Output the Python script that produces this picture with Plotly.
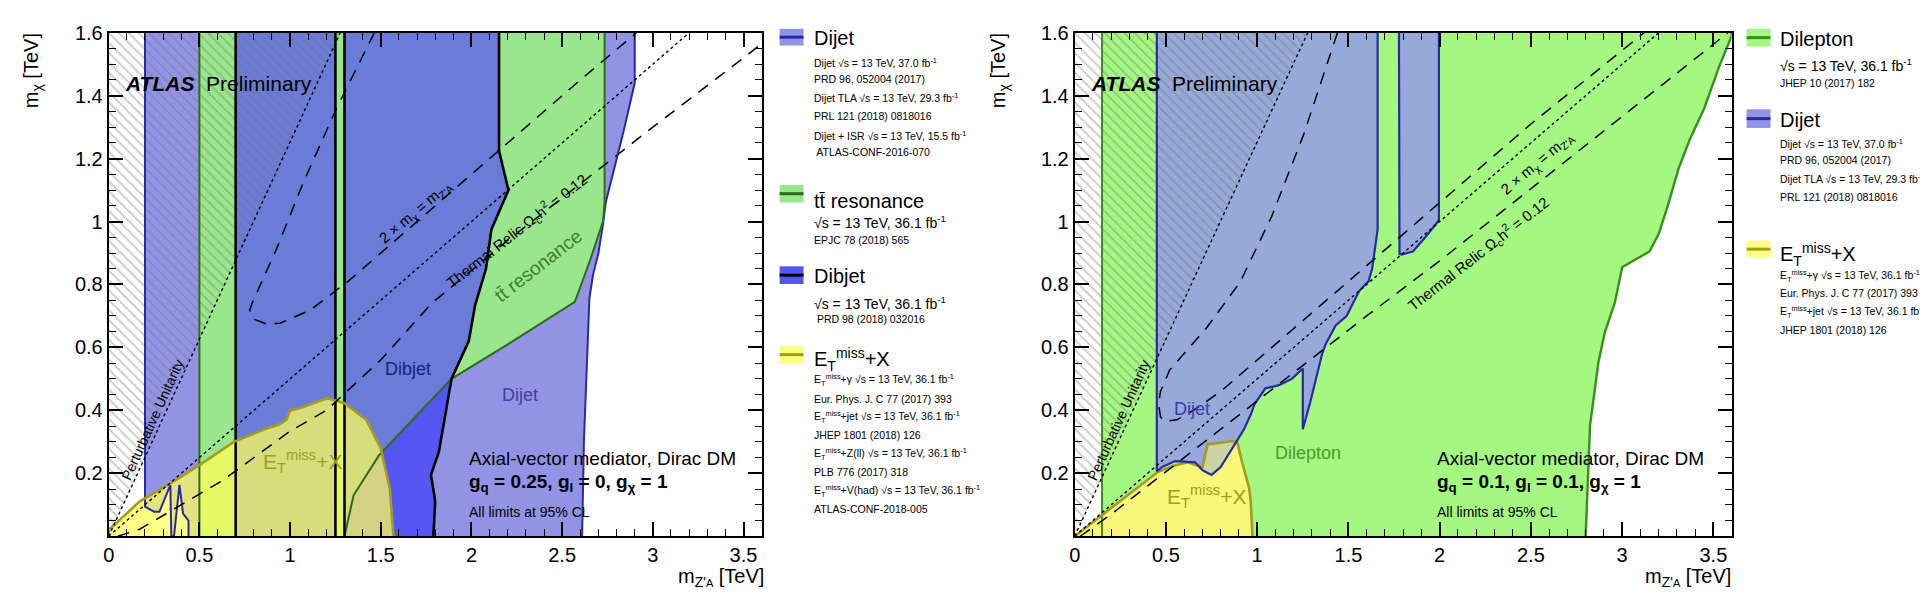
import plotly.graph_objects as go

W, H = 1928, 594
YMAX = 1.6

# ---------------- left panel: g_q = 0.25, g_l = 0, g_chi = 1 ----------------
L_STRIP_X = [0.2, 0.2, 0.25, 0.28, 0.34, 0.345, 0.36, 0.39, 0.41, 0.44, 0.44, 0.5, 0.5]
L_STRIP_Y = [1.6, 0.094, 0.078, 0.078, 0.163, 0.0, 0.0, 0.163, 0.072, 0.05, 0.0, 0.0, 1.6]
L_TT_BANDS = [(0.5, 0.7), (1.25, 1.3)]
L_DIBJET_BAND = (0.7, 1.25)
L_DIJET_EDGE_X = [2.61, 2.62, 2.64, 2.65, 2.67, 2.70, 2.725, 2.74, 2.84, 2.88, 2.90, 2.90]
L_DIJET_EDGE_Y = [0.0, 0.3, 0.6, 0.755, 0.83, 0.90, 0.99, 1.06, 1.29, 1.39, 1.44, 1.6]
L_TT_EDGE_X = [1.3, 1.35, 1.49, 1.89, 2.2, 2.57, 2.65, 2.725, 2.734, 2.734]
L_TT_EDGE_Y = [0.0, 0.13, 0.257, 0.50, 0.61, 0.745, 0.87, 1.0, 1.06, 1.6]
L_DIBJET_EDGE_X = [1.79, 1.80, 1.777, 1.82, 1.89, 1.985, 2.02, 2.08, 2.11, 2.204, 2.152, 2.152]
L_DIBJET_EDGE_Y = [0.0, 0.112, 0.195, 0.267, 0.50, 0.62, 0.734, 0.85, 0.975, 1.1, 1.225, 1.6]
L_MET_X = [0, 0, 0.17, 0.36, 0.5, 0.69, 0.86, 0.94, 0.98, 1.0, 1.07, 1.2, 1.22, 1.3, 1.42, 1.5, 1.55, 1.57]
L_MET_Y = [0, 0.02, 0.11, 0.175, 0.226, 0.30, 0.34, 0.355, 0.37, 0.40, 0.41, 0.438, 0.436, 0.423, 0.37, 0.28, 0.15, 0]
L_RELIC_A_X = [1.465, 1.256, 1.07, 0.923, 0.79, 0.777, 0.80, 0.87, 0.944, 1.11, 1.32, 1.8, 2.17, 2.6, 2.91]
L_RELIC_A_Y = [1.6, 1.36, 1.12, 0.91, 0.74, 0.718, 0.69, 0.674, 0.677, 0.718, 0.81, 1.05, 1.235, 1.45, 1.6]
L_RELIC_B_X = [0.05, 0.17, 0.4, 0.63, 1.0, 1.2, 1.5, 1.78, 2.2, 2.67, 3.0, 3.5, 3.6]
L_RELIC_B_Y = [0.0, 0.022, 0.10, 0.178, 0.334, 0.40, 0.56, 0.74, 0.94, 1.15, 1.30, 1.52, 1.565]

# ---------------- right panel: g_q = 0.1, g_l = 0.1, g_chi = 1 ----------------
R_DILEP_EDGE_X = [2.80, 2.806, 2.824, 2.87, 2.905, 2.96, 3.0, 3.15, 3.2, 3.25, 3.31, 3.37, 3.45, 3.53, 3.6, 3.6]
R_DILEP_EDGE_Y = [0.0, 0.104, 0.352, 0.553, 0.648, 0.742, 0.855, 0.905, 0.96, 1.05, 1.17, 1.26, 1.36, 1.49, 1.59, 1.6]
R_DILEP_LEFT = 0.15
R_MET_X = [0, 0.155, 0.455, 0.546, 0.62, 0.70, 0.728, 0.856, 0.89, 0.92, 0.956, 0.965, 0.974]
R_MET_Y = [0, 0.069, 0.204, 0.225, 0.235, 0.219, 0.292, 0.302, 0.30, 0.23, 0.153, 0.11, 0.0]
R_DIJET1_X = [0.45, 0.45, 0.48, 0.55, 0.62, 0.66, 0.70, 0.75, 0.80, 0.874, 0.928, 0.967, 0.986, 1.045,
              1.12, 1.19, 1.25, 1.25, 1.29, 1.356, 1.375, 1.43, 1.49, 1.52, 1.56, 1.61, 1.63, 1.65, 1.66, 1.66]
R_DIJET1_Y = [1.6, 0.206, 0.22, 0.239, 0.236, 0.235, 0.21, 0.195, 0.22, 0.29, 0.34, 0.39, 0.42, 0.47,
              0.48, 0.50, 0.533, 0.34, 0.424, 0.58, 0.61, 0.67, 0.70, 0.735, 0.78, 0.81, 0.85, 0.933, 0.975, 1.6]
R_DIJET2_X = [1.777, 1.78, 1.79, 1.853, 1.918, 1.996, 1.996]
R_DIJET2_Y = [1.6, 0.897, 0.895, 0.905, 0.948, 1.004, 1.6]
R_RELIC_A_X = [1.44, 1.255, 1.08, 0.907, 0.72, 0.60, 0.52, 0.47, 0.46, 0.47, 0.49, 0.56, 0.65, 0.8, 1.0, 1.4, 2.0, 2.5, 3.12]
R_RELIC_A_Y = [1.6, 1.277, 1.017, 0.808, 0.66, 0.58, 0.528, 0.46, 0.42, 0.38, 0.365, 0.37, 0.40, 0.46, 0.56, 0.76, 1.06, 1.31, 1.6]
R_RELIC_B_X = [0.03, 0.2, 0.4, 0.6, 0.8, 1.0, 1.2, 1.4, 1.6, 2.0, 2.5, 3.0, 3.58]
R_RELIC_B_Y = [0.0, 0.07, 0.16, 0.25, 0.34, 0.43, 0.52, 0.61, 0.70, 0.875, 1.105, 1.335, 1.6]

# ---------------- shared reference lines ----------------
UNIT_X, UNIT_Y = [0, 1.277], [0, 1.6]      # perturbative unitarity
HALF_X, HALF_Y = [0, 3.2], [0, 1.6]        # 2 m_chi = m_Z'

X_TICKS = [0, 0.5, 1, 1.5, 2, 2.5, 3, 3.5]
X_TICK_TEXT = ["0", "0.5", "1", "1.5", "2", "2.5", "3", "3.5"]
Y_TICKS = [0.2, 0.4, 0.6, 0.8, 1.0, 1.2, 1.4, 1.6]
Y_TICK_TEXT = ["0.2", "0.4", "0.6", "0.8", "1", "1.2", "1.4", "1.6"]

ET = "E<sub>T</sub><sup>miss</sup>"
LEFT_LEGEND_TEXT = [
    "Dijet",
    "Dijet √s = 13 TeV, 37.0 fb<sup>-1</sup>",
    "PRD 96, 052004 (2017)",
    "Dijet TLA √s = 13 TeV, 29.3 fb<sup>-1</sup>",
    "PRL 121 (2018) 0818016",
    "Dijet + ISR √s = 13 TeV, 15.5 fb<sup>-1</sup>",
    " ATLAS-CONF-2016-070",
    "tt\u0304 resonance",
    "√s = 13 TeV, 36.1 fb<sup>-1</sup>",
    "EPJC 78 (2018) 565",
    "Dibjet",
    "√s = 13 TeV, 36.1 fb<sup>-1</sup>",
    " PRD 98 (2018) 032016",
    ET + "+X",
    ET + "+γ √s = 13 TeV, 36.1 fb<sup>-1</sup>",
    "Eur. Phys. J. C 77 (2017) 393",
    ET + "+jet √s = 13 TeV, 36.1 fb<sup>-1</sup>",
    "JHEP 1801 (2018) 126",
    ET + "+Z(ll) √s = 13 TeV, 36.1 fb<sup>-1</sup>",
    "PLB 776 (2017) 318",
    ET + "+V(had) √s = 13 TeV, 36.1 fb<sup>-1</sup>",
    "ATLAS-CONF-2018-005",
]
RIGHT_LEGEND_TEXT = [
    "Dilepton",
    "√s = 13 TeV, 36.1 fb<sup>-1</sup>",
    "JHEP 10 (2017) 182",
    "Dijet",
    "Dijet √s = 13 TeV, 37.0 fb<sup>-1</sup>",
    "PRD 96, 052004 (2017)",
    "Dijet TLA √s = 13 TeV, 29.3 fb<sup>-1</sup>",
    "PRL 121 (2018) 0818016",
    ET + "+X",
    ET + "+γ √s = 13 TeV, 36.1 fb<sup>-1</sup>",
    "Eur. Phys. J. C 77 (2017) 393",
    ET + "+jet √s = 13 TeV, 36.1 fb<sup>-1</sup>",
    "JHEP 1801 (2018) 126",
]
LEFT_COUPLINGS = "<b>g<sub>q</sub> = 0.25, g<sub>l</sub> = 0, g<sub>χ</sub> = 1</b>"
RIGHT_COUPLINGS = "<b>g<sub>q</sub> = 0.1, g<sub>l</sub> = 0.1, g<sub>χ</sub> = 1</b>"

# colours
C_DIJET = "#9393e6"
C_DIJET_R = "#97a9d9"
C_DIBJET = "#5656f2"
C_MIX = "#6a7bd8"
C_TT = "#9ae68c"
C_DILEP = "#a4f780"
C_MET = "#f7f77a"
NAVY = "#2a2aa0"
DKGREEN = "#2f6b1a"
OLIVE = "#a49c1e"
FONT = "Liberation Sans, Arial, Helvetica, sans-serif"

fig = go.Figure()


def area(xs, ys, color, xa, ya, line=None, width=0):
    fig.add_trace(go.Scatter(x=list(xs), y=list(ys), xaxis=xa, yaxis=ya, mode="lines",
                             fill="toself", fillcolor=color,
                             line=dict(color=line or "rgba(0,0,0,0)", width=width),
                             hoverinfo="skip", showlegend=False))


def curve(xs, ys, color, width, xa, ya, dash="solid"):
    fig.add_trace(go.Scatter(x=list(xs), y=list(ys), xaxis=xa, yaxis=ya, mode="lines",
                             line=dict(color=color, width=width, dash=dash),
                             hoverinfo="skip", showlegend=False))


def hatch(xa, ya):
    fig.add_trace(go.Scatter(x=UNIT_X + [0], y=UNIT_Y + [YMAX], xaxis=xa, yaxis=ya, mode="lines",
                             fill="toself", fillcolor="rgba(0,0,0,0)",
                             fillpattern=dict(shape="\\", fgcolor="rgba(115,115,115,0.9)",
                                              bgcolor="rgba(0,0,0,0)", size=7, solidity=0.22),
                             line=dict(width=0, color="rgba(0,0,0,0)"),
                             hoverinfo="skip", showlegend=False))


def ref_lines(relic_a, relic_b, xa, ya):
    curve(UNIT_X, UNIT_Y, "black", 1.4, xa, ya, "dot")
    curve(HALF_X, HALF_Y, "black", 1.4, xa, ya, "dot")
    curve(relic_a[0], relic_a[1], "black", 1.5, xa, ya, "12px,9px")
    curve(relic_b[0], relic_b[1], "black", 1.5, xa, ya, "12px,9px")


# ================= left panel =================
xa, ya = "x", "y"
area(L_STRIP_X, L_STRIP_Y, C_DIJET, xa, ya)
area([1.3] + L_DIJET_EDGE_X + [1.3], [0] + L_DIJET_EDGE_Y + [YMAX], C_DIJET, xa, ya)
for a, b in L_TT_BANDS:
    area([a, b, b, a], [0, 0, YMAX, YMAX], C_TT, xa, ya)
area(L_TT_EDGE_X + [1.3], L_TT_EDGE_Y + [YMAX], C_TT, xa, ya)
a, b = L_DIBJET_BAND
area([a, b, b, a], [0, 0, YMAX, YMAX], C_MIX, xa, ya)
k = L_TT_EDGE_X.index(1.89)
j = L_DIBJET_EDGE_X.index(1.89)
area(L_TT_EDGE_X[:k + 1] + L_DIBJET_EDGE_X[j + 1:] + [1.3],
     L_TT_EDGE_Y[:k + 1] + L_DIBJET_EDGE_Y[j + 1:] + [YMAX], C_MIX, xa, ya)
area(L_TT_EDGE_X[:k + 1] + L_DIBJET_EDGE_X[:j][::-1],
     L_TT_EDGE_Y[:k + 1] + L_DIBJET_EDGE_Y[:j][::-1], C_DIBJET, xa, ya)
area(L_MET_X, L_MET_Y, "rgba(255,255,90,0.74)", xa, ya)
hatch(xa, ya)
# outlines
curve(L_STRIP_X[:11], L_STRIP_Y[:11], NAVY, 2, xa, ya)
curve(L_DIJET_EDGE_X, L_DIJET_EDGE_Y, NAVY, 2, xa, ya)
curve([0.5, 0.5], [0, YMAX], DKGREEN, 2, xa, ya)
curve(L_TT_EDGE_X, L_TT_EDGE_Y, DKGREEN, 2, xa, ya)
for xv in [L_DIBJET_BAND[0], L_DIBJET_BAND[1], L_TT_BANDS[1][1]]:
    curve([xv, xv], [0, YMAX], "black", 2.6, xa, ya)
curve(L_DIBJET_EDGE_X, L_DIBJET_EDGE_Y, "black", 2.6, xa, ya)
curve(L_MET_X, L_MET_Y, OLIVE, 2.6, xa, ya)
ref_lines((L_RELIC_A_X, L_RELIC_A_Y), (L_RELIC_B_X, L_RELIC_B_Y), xa, ya)

# ================= right panel =================
xa, ya = "x2", "y2"
area([R_DILEP_LEFT] + R_DILEP_EDGE_X + [R_DILEP_LEFT], [0] + R_DILEP_EDGE_Y + [YMAX], C_DILEP, xa, ya)
area(R_MET_X, R_MET_Y, C_MET, xa, ya)
area(R_DIJET1_X, R_DIJET1_Y, C_DIJET_R, xa, ya)
area(R_DIJET2_X, R_DIJET2_Y, C_DIJET_R, xa, ya)
area(R_MET_X, R_MET_Y, "rgba(247,247,122,0.55)", xa, ya)
hatch(xa, ya)
curve([R_DILEP_LEFT, R_DILEP_LEFT], [0, YMAX], "#3c8c1e", 2, xa, ya)
curve(R_DILEP_EDGE_X, R_DILEP_EDGE_Y, "#3c8c1e", 2.4, xa, ya)
curve(R_MET_X, R_MET_Y, OLIVE, 2.6, xa, ya)
curve(R_DIJET1_X, R_DIJET1_Y, NAVY, 2.2, xa, ya)
curve(R_DIJET2_X, R_DIJET2_Y, NAVY, 2.2, xa, ya)
ref_lines((R_RELIC_A_X, R_RELIC_A_Y), (R_RELIC_B_X, R_RELIC_B_Y), xa, ya)

# ================= in-plot text =================
ann = []


def text(x, y, s, xa, ya, size, color="black", angle=0, xanchor="center"):
    ann.append(dict(x=x, y=y, xref=xa, yref=ya, text=s, showarrow=False, textangle=angle,
                    xanchor=xanchor, yanchor="middle",
                    font=dict(family=FONT, size=size, color=color)))


for xa, ya, coup in [("x", "y", LEFT_COUPLINGS), ("x2", "y2", RIGHT_COUPLINGS)]:
    text(0.08, 1.44, "<b><i>ATLAS</i></b>  Preliminary", xa, ya, 21, xanchor="left")
    text(0.24, 0.37, "Perturbative Unitarity", xa, ya, 14, angle=-65.5)
    text(1.975, 0.247, "Axial-vector mediator, Dirac DM", xa, ya, 19, xanchor="left")
    text(1.975, 0.169, coup, xa, ya, 19, xanchor="left")
    text(1.975, 0.076, "All limits at 95% CL", xa, ya, 14, xanchor="left")

text(1.69, 1.03, "2 × m<sub>χ</sub> = m<sub>Z'A</sub>", "x", "y", 15, angle=-40)
text(2.25, 0.97, "Thermal Relic Ω<sub>c</sub>h<sup>2</sup> = 0.12", "x", "y", 15, angle=-38)
text(2.37, 0.86, "tt\u0304 resonance", "x", "y", 19, "#3f7f2c", angle=-38)
text(1.65, 0.53, "Dibjet", "x", "y", 18, "#1c2270")
text(2.27, 0.45, "Dijet", "x", "y", 18, "#4040a8")
text(1.07, 0.236, ET + "+X", "x", "y", 21, OLIVE)

text(2.535, 1.185, "2 × m<sub>χ</sub> = m<sub>Z'A</sub>", "x2", "y2", 15, angle=-40)
text(2.21, 0.90, "Thermal Relic Ω<sub>c</sub>h<sup>2</sup> = 0.12", "x2", "y2", 15, angle=-38)
text(0.645, 0.405, "Dijet", "x2", "y2", 18, "#3b3bb0")
text(1.28, 0.263, "Dilepton", "x2", "y2", 18, "#4b9a2a")
text(0.72, 0.125, ET + "+X", "x2", "y2", 21, OLIVE)


# ================= axis titles & legends (pixel layout) =================
def px(x):
    return x / W


def py(y):
    return (H - y) / H


def ptext(x, y, s, size, xanchor="left", angle=0, yanchor="middle"):
    ann.append(dict(x=px(x), y=py(y), xref="paper", yref="paper", text=s, showarrow=False,
                    xanchor=xanchor, yanchor=yanchor, textangle=angle,
                    font=dict(family=FONT, size=size, color="black")))


XTITLE = "m<sub>Z'<span style='font-size:11px'>A</span></sub> [TeV]"
YTITLE = "m<sub>χ</sub> [TeV]"
for x_right, x_ylab in [(754, 18), (1724, 988)]:
    ptext(x_right, 569, XTITLE, 20, xanchor="right")
    ptext(x_ylab, 12, YTITLE, 20, xanchor="center", angle=-90, yanchor="top")

SIZES = {"big": 20, "mid": 14, "small": 10.5}
left_rows = [(19.7, "big"), (44, "small"), (61, "small"), (80, "small"), (98.5, "small"),
             (119, "small"), (136, "small"), (185.7, "big"), (207, "mid"), (225, "small"),
             (262, "big"), (289, "mid"), (306, "small"), (347, "big"), (368, "small"),
             (387, "small"), (405.5, "small"), (424, "small"), (443, "small"), (462, "small"),
             (481, "small"), (499, "small")]
right_rows = [(20.4, "big"), (47, "mid"), (65, "small"), (103, "big"), (126.6, "small"),
              (144, "small"), (163, "small"), (181, "small"), (240, "big"), (261.5, "small"),
              (279, "small"), (299, "small"), (317, "small")]
for s, (yy, sz) in zip(LEFT_LEGEND_TEXT, left_rows):
    ptext(800, yy, s, SIZES[sz])
for s, (yy, sz) in zip(RIGHT_LEGEND_TEXT, right_rows):
    ptext(1770, yy, s, SIZES[sz])

shapes = []
left_patches = [(10, 27, C_DIJET, NAVY), (169, 187, C_TT, DKGREEN),
                (252, 270, C_DIBJET, "black"), (333, 351, "#ffff80", OLIVE)]
right_patches = [(10, 28, C_DILEP, "#3c8c1e"), (92, 111, "#9393e6", NAVY),
                 (226, 243, "#ffff80", OLIVE)]
for x0, patches in [(768, left_patches), (1738, right_patches)]:
    for y0, y1, fc, lc in patches:
        shapes.append(dict(type="rect", xref="paper", yref="paper", x0=px(x0), x1=px(x0 + 24),
                           y0=py(y1), y1=py(y0), fillcolor=fc, line=dict(width=0)))
        shapes.append(dict(type="line", xref="paper", yref="paper", x0=px(x0), x1=px(x0 + 24),
                           y0=py((y0 + y1) / 2), y1=py((y0 + y1) / 2), line=dict(color=lc, width=3)))

axis_common = dict(showline=True, linecolor="black", linewidth=2, mirror="allticks",
                   ticks="inside", ticklen=14, tickwidth=1.5, tickcolor="black",
                   showgrid=False, zeroline=False,
                   tickfont=dict(family=FONT, size=20, color="black"))
xminor = dict(tickmode="array", tickvals=[i / 10 for i in range(37)], ticks="inside",
              ticklen=7, tickwidth=1.2, tickcolor="black", showgrid=False)
yminor = dict(tickmode="array", tickvals=[i / 20 for i in range(33)], ticks="inside",
              ticklen=7, tickwidth=1.2, tickcolor="black", showgrid=False)
xdef = dict(range=[0, 3.6], tickmode="array", tickvals=X_TICKS, ticktext=X_TICK_TEXT, minor=xminor, **axis_common)
ydef = dict(range=[0, YMAX], tickmode="array", tickvals=Y_TICKS, ticktext=Y_TICK_TEXT, minor=yminor, **axis_common)

fig.update_layout(
    width=W, height=H, margin=dict(l=0, r=0, t=0, b=0),
    paper_bgcolor="white", plot_bgcolor="white", showlegend=False,
    xaxis=dict(domain=[px(95), px(750)], anchor="y", **xdef),
    yaxis=dict(domain=[py(527), py(14)], anchor="x", **ydef),
    xaxis2=dict(domain=[px(1064), px(1723)], anchor="y2", **xdef),
    yaxis2=dict(domain=[py(527), py(14)], anchor="x2", **ydef),
    annotations=ann, shapes=shapes,
)

fig.write_html("out.html")
